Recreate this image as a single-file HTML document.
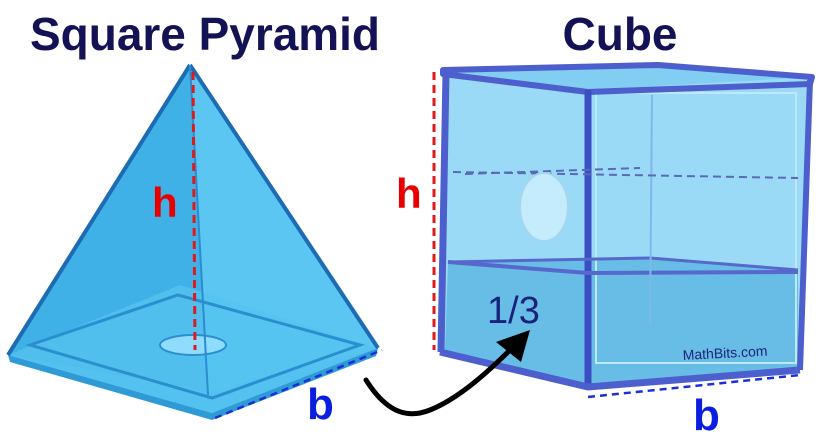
<!DOCTYPE html>
<html><head><meta charset="utf-8"><style>
body{margin:0;background:#fff;}
svg{display:block}
</style></head><body>
<svg width="821" height="434" viewBox="0 0 821 434" xmlns="http://www.w3.org/2000/svg">
<text x="205" y="50" font-family="Liberation Sans, sans-serif" font-weight="bold" font-size="46" fill="#121255" text-anchor="middle" textLength="350" lengthAdjust="spacingAndGlyphs">Square Pyramid</text>
<text x="620" y="50" font-family="Liberation Sans, sans-serif" font-weight="bold" font-size="46" fill="#121255" text-anchor="middle">Cube</text>
<!-- Pyramid -->
<polygon points="190,65 8,355 212,413 378,348" fill="#4dbdf0"/>
<polygon points="190,65 8,355 207,392" fill="#3fb1e6"/>
<polygon points="190,65 207,392 378,348" fill="#5cc6f3"/>
<polygon points="8,355 180,285 378,348 212,413" fill="#55c3f0" opacity="0.8"/>
<polygon points="30,345 178,295 360,345 212,398" fill="none" stroke="#2a8fcf" stroke-width="3"/>
<polygon points="8,355 212,413 378,348 376,356 212,420 10,362" fill="#2e9ad6"/>
<ellipse cx="193" cy="345" rx="33" ry="10" fill="#8fdcff" stroke="#2a8fcf" stroke-width="2"/>
<line x1="190" y1="65" x2="8" y2="355" stroke="#1c6bb3" stroke-width="4"/>
<line x1="190" y1="65" x2="378" y2="348" stroke="#1c6bb3" stroke-width="4"/>
<line x1="190" y1="65" x2="208" y2="395" stroke="#2b8cd0" stroke-width="2"/>
<line x1="193" y1="72" x2="195" y2="350" stroke="#e01a1a" stroke-width="3" stroke-dasharray="8,5"/>
<text x="152" y="217" font-family="Liberation Sans, sans-serif" font-weight="bold" font-size="42" fill="#e80000">h</text>
<line x1="215" y1="418" x2="382" y2="350" stroke="#1a2fd6" stroke-width="2.5" stroke-dasharray="7,5"/>
<text x="307" y="419" font-family="Liberation Sans, sans-serif" font-weight="bold" font-size="44" fill="#0a1ee0">b</text>
<!-- Cube -->
<polygon points="443,70 658,65 812,77 800,370 588,387 440,352" fill="#9adaf7"/>
<polygon points="448,262 650,258 798,270 798,368 588,385 445,350" fill="#68bde6"/>
<polygon points="443,70 658,65 812,77 588,90" fill="#82cdf2"/>
<rect x="596" y="93" width="200" height="270" fill="none" stroke="#bfe9fb" stroke-width="2"/>
<polygon points="443,70 658,65 812,77 810,84 588,92 443,74" fill="none" stroke="#4c5fcc" stroke-width="6" stroke-linejoin="round"/>
<line x1="588" y1="90" x2="588" y2="387" stroke="#3b4fc4" stroke-width="7"/>
<line x1="446" y1="72" x2="441" y2="352" stroke="#4c5fcc" stroke-width="7"/>
<line x1="810" y1="80" x2="800" y2="370" stroke="#4c5fcc" stroke-width="6"/>
<polyline points="440,352 588,387 800,370" fill="none" stroke="#4c5fcc" stroke-width="7"/>
<polyline points="448,262 588,273 798,272" fill="none" stroke="#5668cc" stroke-width="4"/>
<polyline points="448,262 650,258 798,270" fill="none" stroke="#5668cc" stroke-width="3"/>
<line x1="652" y1="95" x2="650" y2="325" stroke="#7fb8e8" stroke-width="2"/>
<line x1="453" y1="172" x2="798" y2="178" stroke="#5a6ab8" stroke-width="2" stroke-dasharray="8,5"/>
<line x1="465" y1="174" x2="640" y2="168" stroke="#5a6ab8" stroke-width="2" stroke-dasharray="8,5"/>
<ellipse cx="544" cy="207" rx="24" ry="34" fill="#c4ecfd" stroke="#a6d6ee" stroke-width="2"/>
<line x1="434" y1="72" x2="434" y2="350" stroke="#e01a1a" stroke-width="3" stroke-dasharray="8,5"/>
<text x="396" y="208" font-family="Liberation Sans, sans-serif" font-weight="bold" font-size="42" fill="#e80000">h</text>
<text x="487" y="323" font-family="Liberation Sans, sans-serif" font-size="38" fill="#1a237a">1/3</text>
<text x="683" y="360" font-family="Liberation Sans, sans-serif" font-size="14" fill="#1a237a" transform="rotate(-3 683 360)">MathBits.com</text>
<line x1="588" y1="397" x2="800" y2="375" stroke="#1a2fd6" stroke-width="2.5" stroke-dasharray="7,5"/>
<text x="693" y="430" font-family="Liberation Sans, sans-serif" font-weight="bold" font-size="44" fill="#0a1ee0">b</text>
<!-- Arrow -->
<path d="M366,380 C385,410 405,420 430,410 C460,398 490,370 515,345" fill="none" stroke="#000" stroke-width="5" stroke-linecap="round"/>
<polygon points="530,330 496,342 521,362" fill="#000"/>
</svg>
</body></html>
